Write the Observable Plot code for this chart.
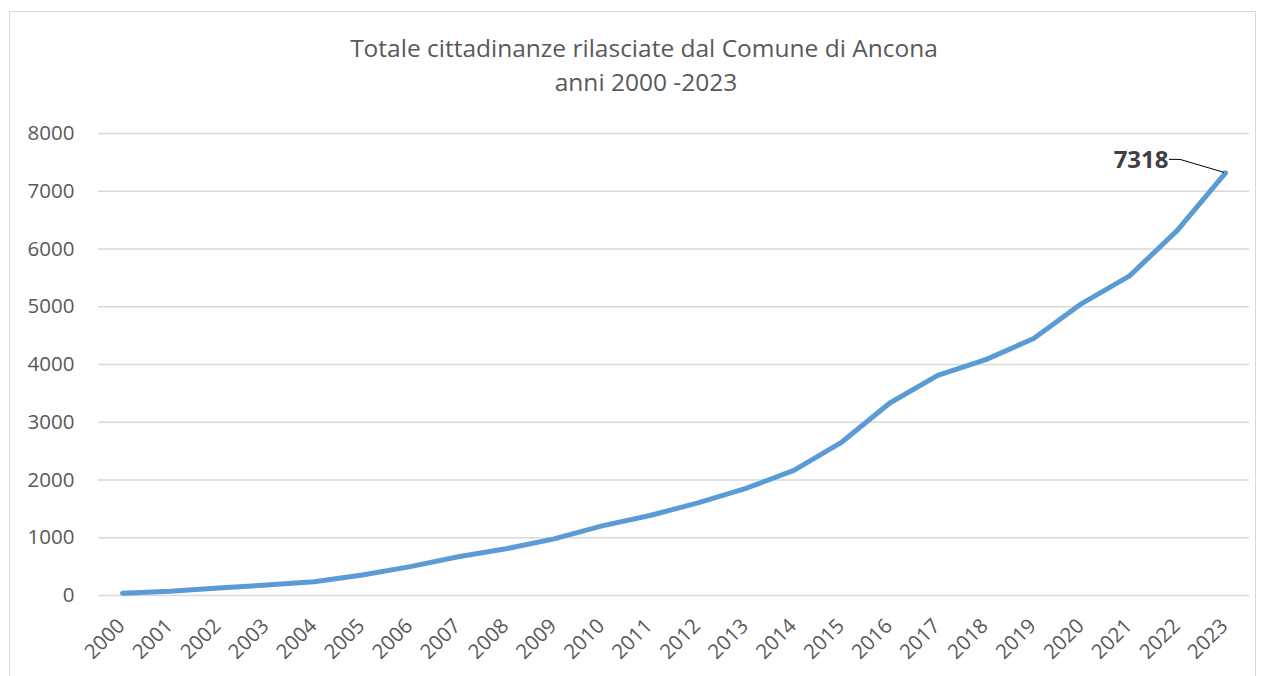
<!DOCTYPE html>
<html>
<head>
<meta charset="utf-8">
<script src="https://cdn.jsdelivr.net/npm/d3@7"></script>
<script src="https://cdn.jsdelivr.net/npm/@observablehq/plot@0.6"></script>
<style>
  body { margin: 0; background: #fff; font-family: "Open Sans", sans-serif; }
  #wrap { position: relative; width: 1266px; height: 676px; overflow: hidden; }
  #frame { position: absolute; left: 9px; top: 11px; width: 1247px; height: 700px; border: 1.5px solid #d9d9d9; box-sizing: border-box; }
  .title { position: absolute; left: 0; width: 1288px; text-align: center; color: #595959; font-size: 24.5px; white-space: nowrap; }
  #chart { position: absolute; left: 0; top: 0; }
</style>
</head>
<body>
<div id="wrap">
  <div id="frame"></div>
  <div class="title" id="t1" style="top:31px;">Totale cittadinanze rilasciate dal Comune di Ancona</div>
  <div class="title" id="t2" style="top:65px; width:1292px;">anni 2000 -2023</div>
  <div id="chart"></div>
</div>
<script>
const years = [2000,2001,2002,2003,2004,2005,2006,2007,2008,2009,2010,2011,2012,2013,2014,2015,2016,2017,2018,2019,2020,2021,2022,2023];
const totals = [40,75,130,180,237,355,500,670,810,980,1205,1385,1605,1855,2166,2657,3333,3813,4085,4449,5055,5534,6326,7318];
const yTicks = [0,1000,2000,3000,4000,5000,6000,7000,8000];
const labelYear = 2023;
const labelValue = 7318;

const data = years.map((y, i) => ({year: y, value: totals[i]}));
const last = [{year: labelYear, value: labelValue}];

function leader(index, scales) {
  const px = scales.x(labelYear), py = scales.y(labelValue);
  const p = document.createElementNS("http://www.w3.org/2000/svg", "path");
  p.setAttribute("d", `M${px - 56},${py - 13} L${px - 45},${py - 13} L${px - 1},${py}`);
  p.setAttribute("fill", "none");
  p.setAttribute("stroke", "#000");
  p.setAttribute("stroke-width", "1");
  return p;
}

const chart = Plot.plot({
  width: 1266,
  height: 676,
  marginLeft: 98,
  marginRight: 17,
  marginTop: 133,
  marginBottom: 81,
  style: {fontFamily: "Open Sans, sans-serif", background: "transparent", color: "#595959", overflow: "visible"},
  x: {type: "linear", domain: [years[0] - 0.5, years[years.length - 1] + 0.5], label: null},
  y: {domain: [0, 8000], label: null},
  marks: [
    Plot.ruleY(yTicks, {stroke: "#d9d9d9", strokeWidth: 1.5}),
    Plot.axisY({ticks: yTicks, tickSize: 0, tickPadding: 24, tickFormat: d => String(d), fontSize: 20.5, fill: "#595959", label: null}),
    Plot.axisX({ticks: years, tickSize: 0, tickPadding: 27, dx: -1, tickRotate: -45, tickFormat: d => String(d), fontSize: 20.5, fill: "#595959", label: null}),
    Plot.line(data, {x: "year", y: "value", stroke: "#5b9bd5", strokeWidth: 5, strokeLinejoin: "round", strokeLinecap: "round"}),
    Plot.text(last, {x: "year", y: "value", text: d => String(d.value), dx: -57, dy: -13, textAnchor: "end", fontWeight: "bold", fontSize: 24, fill: "#404040"}),
    leader
  ]
});
document.getElementById("chart").appendChild(chart);
</script>
</body>
</html>
